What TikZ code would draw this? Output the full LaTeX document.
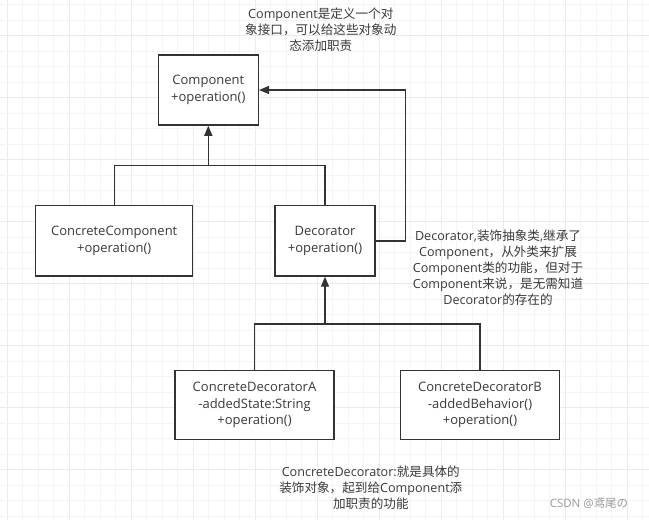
\documentclass[tikz,border=0pt]{standalone}
\usepackage{fontspec}
\setmainfont{Open Sans}
\newfontfamily\cjk{Noto Sans CJK SC}
\usetikzlibrary{arrows.meta}
\definecolor{linec}{HTML}{333333}
\definecolor{textc}{HTML}{3A3A3A}
\definecolor{gridminor}{HTML}{F4F4F4}
\definecolor{gridmajor}{HTML}{EBEBEB}
\newcommand\boxfont{\fontsize{13}{16.6}\selectfont}
\newcommand\notefont{\fontsize{12.6}{16}\selectfont}
\begin{document}
\begin{tikzpicture}[x=1pt,y=-1pt,
  umlbox/.style={draw=linec, line width=1.5pt, fill=white, text=textc,
    align=center, font=\boxfont, inner sep=0pt,
    execute at begin node={\rule{0pt}{16pt}}},
  note/.style={text=textc, align=center, font=\notefont, inner sep=0pt},
  conn/.style={draw=linec, line width=1.4pt},
  tri/.style={-{Triangle[length=10pt,width=8pt]}}]
\useasboundingbox (0,0) rectangle (649,520);
\fill[white] (0,0) rectangle (649,520);
% grid
\foreach \i in {0,...,41} {
  \pgfmathtruncatemacro\m{mod(\i,4)}
  \ifnum\m=0
    \draw[gridmajor, line width=1.4pt] ({7.3+15.5*\i},0) -- ({7.3+15.5*\i},520);
  \else
    \draw[gridminor, line width=1pt] ({7.3+15.5*\i},0) -- ({7.3+15.5*\i},520);
  \fi
}
\foreach \i in {0,...,33} {
  \pgfmathtruncatemacro\m{mod(\i+2,4)}
  \ifnum\m=0
    \draw[gridmajor, line width=1.4pt] (0,{4.7+15.5*\i}) -- (649,{4.7+15.5*\i});
  \else
    \draw[gridminor, line width=1pt] (0,{4.7+15.5*\i}) -- (649,{4.7+15.5*\i});
  \fi
}
% boxes
\node[umlbox, minimum width=100pt, minimum height=70pt] (comp) at (208.3,90)
  {Component\\+operation()};
\node[umlbox, minimum width=157pt, minimum height=70.3pt] (cc) at (114.2,240.8)
  {ConcreteComponent\\+operation()};
\node[umlbox, minimum width=100pt, minimum height=70.3pt] (dec) at (325,240.8)
  {Decorator\\+operation()};
\node[umlbox, minimum width=159pt, minimum height=68.6pt] (cda) at (254.5,405)
  {ConcreteDecoratorA\\-addedState:String\\+operation()};
\node[umlbox, minimum width=158.6pt, minimum height=68.6pt] (cdb) at (480,405)
  {ConcreteDecoratorB\\-addedBehavior()\\+operation()};
% notes
\node[note] (n1) at (320.8,29.8)
  {Component{\cjk 是定义一个对}\\{\cjk 象接口，可以给这些对象动}\\{\cjk 态添加职责}};
\node[note] (n2) at (498,267.5)
  {Decorator,{\cjk 装饰抽象类},{\cjk 继承了}\\Component{\cjk ，从外类来扩展}\\Component{\cjk 类的功能，但对于}\\Component{\cjk 来说，是无需知道}\\Decorator{\cjk 的存在的}};
\node[note] (n3) at (370.8,488)
  {ConcreteDecorator:{\cjk 就是具体的}\\{\cjk 装饰对象，起到给}Component{\cjk 添}\\{\cjk 加职责的功能}};
\node[text=black!40, font=\fontsize{11.5}{14}\selectfont, inner sep=0pt] (wm) at (589,503.5)
  {CSDN @{\cjk 鸢尾の}};
% junctions
\coordinate (j1) at (208.3,165.7);
\coordinate (j2) at (325,324);
\coordinate (c2) at (405.5,90);
% connectors
\draw[conn] (cc.north) |- (j1) -| (dec.north);
\draw[conn, tri] (j1) -- (comp.south);
\draw[conn, tri] (dec.east) -| (c2) -- (comp.east);
\draw[conn] (cda.north) |- (j2) -| (cdb.north);
\draw[conn, tri] (j2) -- (dec.south);
\end{tikzpicture}
\end{document}
